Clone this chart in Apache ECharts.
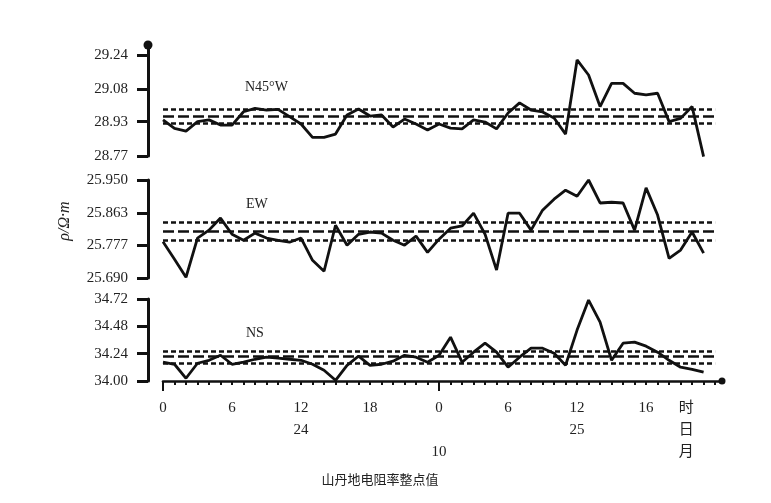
<!DOCTYPE html>
<html>
<head>
<meta charset="utf-8">
<script src="https://cdn.jsdelivr.net/npm/echarts@6.0.0/dist/echarts.min.js"></script>
<style>html,body{margin:0;padding:0;background:#fff;}#c{width:771px;height:503px;}</style>
</head>
<body>
<div id="c"></div>
<script>
// ---- data (hourly values, hour 0 .. 47) ----
const hours = [0,1,2,3,4,5,6,7,8,9,10,11,12,13,14,15,16,17,18,19,20,21,22,23,24,25,26,27,28,29,30,31,32,33,34,35,36,37,38,39,40,41,42,43,44,45,46,47];
const n45w = [28.938,28.899,28.886,28.930,28.938,28.914,28.914,28.976,28.992,28.984,28.987,28.953,28.919,28.857,28.857,28.872,28.961,28.989,28.956,28.961,28.905,28.942,28.919,28.891,28.919,28.900,28.896,28.938,28.928,28.896,28.970,29.017,28.984,28.975,28.947,28.872,29.217,29.147,29.000,29.108,29.108,29.062,29.054,29.062,28.930,28.945,29.000,28.767];
const ew = [25.786,25.740,25.692,25.796,25.817,25.849,25.806,25.790,25.809,25.796,25.790,25.785,25.796,25.737,25.708,25.830,25.777,25.806,25.812,25.809,25.790,25.777,25.801,25.758,25.793,25.822,25.828,25.862,25.806,25.711,25.862,25.862,25.817,25.870,25.899,25.923,25.907,25.950,25.889,25.891,25.889,25.817,25.929,25.857,25.742,25.764,25.812,25.756];
const ns = [34.165,34.147,34.024,34.156,34.182,34.226,34.147,34.165,34.191,34.209,34.200,34.191,34.182,34.147,34.094,34.006,34.138,34.218,34.138,34.147,34.174,34.226,34.209,34.165,34.226,34.385,34.165,34.253,34.332,34.253,34.121,34.209,34.288,34.288,34.244,34.138,34.447,34.711,34.517,34.182,34.332,34.341,34.306,34.253,34.182,34.121,34.103,34.077];
// reference levels: [upper dotted, middle dashed, lower dotted]
const n45wRef = [28.989, 28.956, 28.924];
const ewRef = [25.839, 25.814, 25.790];
const nsRef = [34.257, 34.213, 34.158];
// y tick labels
const n45wTicks = ['28.77','28.93','29.08','29.24'];
const ewTicks = ['25.690','25.777','25.863','25.950'];
const nsTicks = ['34.00','34.24','34.48','34.72'];
// x labels
const xLabelPos = [0,6,12,18,24,30,36,42,45.5];
const hourLabels = ['0','6','12','18','0','6','12','16','时'];
const dayLabels = ['','','24','','','','25','','日'];
const monthLabels = ['','','','','10','','','','月'];
const panelNames = ['N45°W','EW','NS'];
const yName = 'ρ/Ω·m';
const chartTitle = '山丹地电阻率整点值';

const serif = '"Liberation Serif","DejaVu Serif",serif';
const ink = '#111';
const xMax = 48.6;
const hourTicks = hours.concat([48]);

function yAxis(idx, ticksTxt, min, max, withTop){
  const vals = ticksTxt.map(Number);
  return {
    gridIndex: idx, type:'value', min:min, max:max, offset:15, position:'left',
    axisLine:{show:true, onZero:false, lineStyle:{color:ink, width:3}, symbol: withTop ? ['none','circle'] : ['none','none'], symbolSize:[9,9]},
    axisTick:{show:true, length:11, customValues: vals, lineStyle:{color:ink, width:3}},
    axisLabel:{customValues: vals, formatter: v => ticksTxt[vals.indexOf(v)] || '', fontFamily: serif, fontSize:15, color:'#222', margin:20},
    splitLine:{show:false}
  };
}
function refLines(ref){
  const types = [[5,3],[11,4],[5,3]];
  return {
    silent:true, symbol:'none', label:{show:false},
    data: ref.map((v,i)=>[{coord:[0,v], lineStyle:{type:types[i], width:2.6, color:ink}},{coord:[48,v]}])
  };
}
function series(idx, vals, ref){
  return {
    type:'line', xAxisIndex: idx, yAxisIndex: idx, symbol:'none',
    data: hours.map((h,i)=>[h, vals[i]]),
    lineStyle:{color:ink, width:2.8}, z:3,
    markLine: refLines(ref), animation:false
  };
}
const grids = [
  {left:163, width:559, top:45, height:111},
  {left:163, width:559, top:180, height:98},
  {left:163, width:559, top:299, height:82}
];
const option = {
  animation:false,
  grid: grids,
  xAxis: [
    {gridIndex:0, type:'value', min:0, max:xMax, show:false},
    {gridIndex:1, type:'value', min:0, max:xMax, show:false},
    {gridIndex:2, type:'value', min:0, max:xMax,
     axisLine:{show:true, onZero:false, lineStyle:{color:ink, width:2.6}, symbol:['none','circle'], symbolSize:[7,7]},
     axisTick:{show:true, length:4, customValues: hourTicks, lineStyle:{color:ink, width:2}},
     axisLabel:{customValues: xLabelPos,
       formatter: v => { const i = xLabelPos.indexOf(v); return i<0 ? '' : [hourLabels[i], dayLabels[i]||' ', monthLabels[i]||' '].join('\n'); },
       fontFamily: serif + ',"Noto Sans CJK SC"', fontSize:15, color:'#222', lineHeight:22, margin:16},
     splitLine:{show:false}},
    {gridIndex:2, type:'value', min:0, max:xMax, position:'bottom',
     axisLine:{show:false, onZero:false}, axisLabel:{show:false}, splitLine:{show:false},
     axisTick:{show:true, length:10, customValues:[0,24], lineStyle:{color:ink, width:2}}}
  ],
  yAxis: [
    yAxis(0, n45wTicks, 28.77, 29.2865, true),
    yAxis(1, ewTicks, 25.69, 25.95, false),
    yAxis(2, nsTicks, 34.00, 34.72, false)
  ],
  series: [ series(0, n45w, n45wRef), series(1, ew, ewRef), series(2, ns, nsRef) ],
  graphic: [
    {type:'text', left:245, top:80, style:{text:panelNames[0], font:'14px '+serif, fill:'#222'}},
    {type:'text', left:246, top:197, style:{text:panelNames[1], font:'14px '+serif, fill:'#222'}},
    {type:'text', left:246, top:326, style:{text:panelNames[2], font:'14px '+serif, fill:'#222'}},
    {type:'text', x:65, y:221, rotation:Math.PI/2,
     style:{text:yName, font:'italic 16px '+serif, fill:'#222', align:'center', verticalAlign:'middle'}},
    {type:'text', x:380, y:479, style:{text:chartTitle, font:'13px "Noto Sans CJK SC"', fill:'#222', align:'center', verticalAlign:'middle'}}
  ]
};
const chart = echarts.init(document.getElementById('c'), null, {renderer:'canvas'});
chart.setOption(option);
</script>
</body>
</html>
